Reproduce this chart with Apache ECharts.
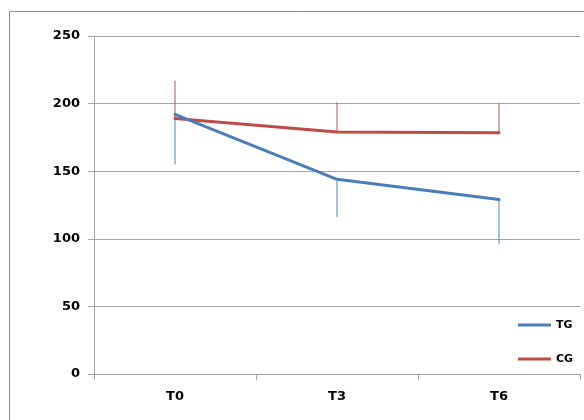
<!DOCTYPE html>
<html>
<head>
<meta charset="utf-8">
<script src="https://cdn.jsdelivr.net/npm/echarts@6/dist/echarts.min.js"></script>
<style>
  html, body { margin: 0; padding: 0; background: #fff; }
  #chart { width: 584px; height: 420px; }
</style>
</head>
<body>
<div id="chart"></div>
<script>
// Time points and group means with standard deviations
const categories = ['T0', 'T3', 'T6'];
const tgMean = [192, 144, 129];
const tgSd = [37, 28, 33];
const cgMean = [189, 179, 178.5];
const cgSd = [28, 22, 22];
const yTicks = [0, 50, 100, 150, 200, 250];

const BLUE = '#4A7EBB';
const RED = '#BE4B48';
const FONT = '"DejaVu Sans", sans-serif';

// Error bar drawn from the mean toward mean + dir*sd
function errorBars(mean, sd, dir, color) {
  return {
    type: 'custom',
    silent: true,
    z: 1,
    data: mean.map((m, i) => [i, m, m + dir * sd[i]]),
    renderItem: function (params, api) {
      const a = api.coord([api.value(0), api.value(1)]);
      const b = api.coord([api.value(0), api.value(2)]);
      return {
        type: 'line',
        shape: { x1: a[0], y1: a[1], x2: b[0], y2: b[1] },
        style: { stroke: color, lineWidth: 1 }
      };
    }
  };
}

const chart = echarts.init(document.getElementById('chart'), null, { renderer: 'canvas' });
chart.setOption({
  animation: false,
  backgroundColor: '#fff',
  graphic: [{
    type: 'rect',
    shape: { x: 9.5, y: 11.5, width: 620, height: 460 },
    style: { fill: 'none', stroke: '#8c8c8c', lineWidth: 1 },
    silent: true,
    z: -1
  }],
  grid: { left: 94, right: 4, top: 36, bottom: 46 },
  legend: {
    orient: 'vertical',
    left: 513,
    top: 313,
    icon: 'rect',
    itemWidth: 33,
    itemHeight: 3,
    itemGap: 20,
    data: ['TG', 'CG'],
    textStyle: { fontFamily: FONT, fontWeight: 'bold', fontSize: 11, lineHeight: 14, color: '#000' }
  },
  xAxis: {
    type: 'category',
    data: categories,
    boundaryGap: true,
    axisLine: { lineStyle: { color: '#a6a6a6', width: 1 } },
    axisTick: { show: true, length: 6, alignWithLabel: false, lineStyle: { color: '#a6a6a6' } },
    axisLabel: { fontFamily: FONT, fontWeight: 'bold', fontSize: 13, color: '#000', margin: 16 },
    splitLine: { show: false }
  },
  yAxis: {
    type: 'value',
    min: yTicks[0],
    max: yTicks[yTicks.length - 1],
    interval: yTicks[1] - yTicks[0],
    axisLine: { show: true, lineStyle: { color: '#a6a6a6', width: 1 } },
    axisTick: { show: true, length: 6, lineStyle: { color: '#a6a6a6' } },
    axisLabel: { fontFamily: FONT, fontWeight: 'bold', fontSize: 13, color: '#000', margin: 14 },
    splitLine: { show: true, lineStyle: { color: '#a6a6a6', width: 1 } }
  },
  series: [
    {
      name: 'TG',
      type: 'line',
      data: tgMean,
      symbol: 'none',
      z: 3,
      lineStyle: { color: BLUE, width: 3, cap: 'round' },
      itemStyle: { color: BLUE }
    },
    {
      name: 'CG',
      type: 'line',
      data: cgMean,
      symbol: 'none',
      z: 2,
      lineStyle: { color: RED, width: 3, cap: 'round' },
      itemStyle: { color: RED }
    },
    errorBars(tgMean, tgSd, -1, '#4F81BD'),
    errorBars(cgMean, cgSd, 1, '#C0504D')
  ]
});
</script>
</body>
</html>
